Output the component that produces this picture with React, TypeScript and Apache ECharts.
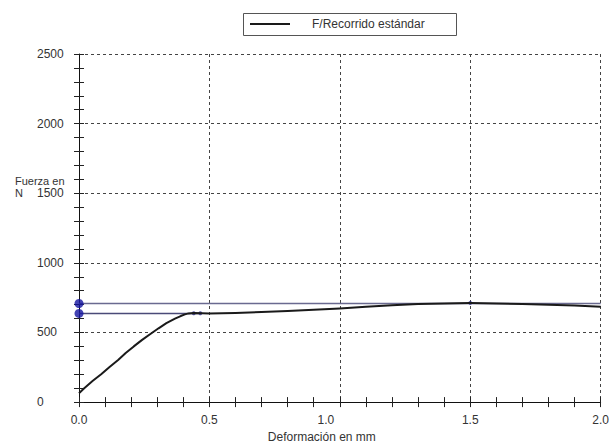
import React, { useEffect, useRef } from "react";
import * as echarts from "echarts";

const deformation = [0, 0.02, 0.053, 0.085, 0.116, 0.15, 0.179, 0.21, 0.242, 0.275, 0.305, 0.335, 0.368, 0.39, 0.406, 0.42, 0.44, 0.47, 0.5, 0.6, 0.7, 0.8, 0.9, 1.0, 1.1, 1.2, 1.3, 1.4, 1.5, 1.6, 1.7, 1.8, 1.9, 2.0];
const force = [64, 100, 153, 200, 250, 302, 352, 400, 447, 491, 530, 567, 600, 618, 630, 637, 640, 638, 636, 640, 647, 655, 663, 672, 684, 696, 704, 709, 711, 709, 705, 700, 693, 684];

const upperLevel = 708;
const lowerLevel = 637;
const lowerLevelEnd = 0.46;
const xMax = 2.0;
const yMax = 2500;
const smallMarks = [[0.44, 638], [0.465, 638], [1.5, 711]];

const seriesName = "F/Recorrido estándar";
const xTitle = "Deformación en mm";
const yTitle = "Fuerza en\nN";

export default function App() {
  const ref = useRef<HTMLDivElement>(null);
  useEffect(() => {
    if (!ref.current) return;
    const chart = echarts.init(ref.current, undefined, { renderer: "svg" });
    const font = "'Liberation Sans', Arial, sans-serif";
    const tickStyle = { color: "#222", width: 1 };
    chart.setOption({
      animation: false,
      backgroundColor: "#fff",
      textStyle: { fontFamily: font },
      grid: { left: 79, right: 5, top: 54, bottom: 40 },
      xAxis: [
        {
          type: "value",
          min: 0,
          max: xMax,
          interval: 0.5,
          name: xTitle,
          nameLocation: "middle",
          nameGap: 26,
          nameTextStyle: { fontSize: 12, color: "#333", fontFamily: font, padding: [0, 36, 0, 0] },
          axisLine: { show: true, onZero: false, lineStyle: { color: "#111", width: 1 } },
          axisTick: { show: true, inside: false, length: 5, lineStyle: tickStyle },
          minorTick: { show: true, splitNumber: 5, length: 5, lineStyle: tickStyle },
          axisLabel: {
            margin: 12,
            fontSize: 12,
            color: "#333",
            fontFamily: font,
            formatter: (v: number) => (Math.abs(v - 1) < 1e-9 ? "{s|1.0}" : v.toFixed(1)),
            rich: { s: { fontSize: 12, color: "#333", fontFamily: font, padding: [0, 28, 0, 0] } },
          },
          splitLine: { show: true, lineStyle: { color: "#444", type: [3, 3], width: 1 } },
        },
        {
          type: "value",
          min: 0,
          max: xMax,
          interval: 0.5,
          position: "bottom",
          axisLine: { show: false, onZero: false },
          axisTick: { show: true, inside: true, length: 5, lineStyle: tickStyle },
          minorTick: { show: true, splitNumber: 5, length: 5, lineStyle: tickStyle },
          axisLabel: { show: false },
          splitLine: { show: false },
        },
      ],
      yAxis: [
        {
          type: "value",
          min: 0,
          max: yMax,
          interval: 500,
          axisLine: { show: true, onZero: false, lineStyle: { color: "#111", width: 1 } },
          axisTick: { show: true, inside: false, length: 5, lineStyle: tickStyle },
          minorTick: { show: true, splitNumber: 5, length: 5, lineStyle: tickStyle },
          axisLabel: {
            align: "left",
            margin: 42,
            fontSize: 12,
            color: "#333",
            fontFamily: font,
            formatter: (v: number) => String(v),
          },
          splitLine: { show: true, lineStyle: { color: "#444", type: [3, 3], width: 1 } },
        },
        {
          type: "value",
          min: 0,
          max: yMax,
          interval: 500,
          position: "left",
          axisLine: { show: false, onZero: false },
          axisTick: { show: true, inside: true, length: 5, lineStyle: tickStyle },
          minorTick: { show: true, splitNumber: 5, length: 5, lineStyle: tickStyle },
          axisLabel: { show: false },
          splitLine: { show: false },
        },
      ],
      series: [
        {
          type: "line",
          name: "Nivel superior",
          data: [[0, upperLevel], [xMax, upperLevel]],
          symbol: "none",
          lineStyle: { color: "#6a6a90", width: 1.5 },
          silent: true,
        },
        {
          type: "line",
          name: "Nivel inferior",
          data: [[0, lowerLevel], [lowerLevelEnd, lowerLevel]],
          symbol: "none",
          lineStyle: { color: "#4a4a78", width: 1.5 },
          silent: true,
        },
        {
          type: "line",
          name: seriesName,
          data: deformation.map((d, i) => [d, force[i]]),
          symbol: "none",
          smooth: false,
          lineStyle: { color: "#1a1a1a", width: 2, join: "round" },
        },
        {
          type: "scatter",
          name: "Marcas",
          data: smallMarks,
          symbolSize: 4,
          itemStyle: { color: "#2a2a90" },
        },
        {
          type: "scatter",
          name: "Niveles",
          data: [[0, upperLevel], [0, lowerLevel]],
          symbolSize: 9,
          itemStyle: { color: "#1414a0" },
          clip: false,
          z: 5,
        },
      ],
      graphic: [
        {
          type: "rect",
          left: 243,
          top: 13,
          shape: { width: 213, height: 22 },
          style: { fill: "#fff", stroke: "#555", lineWidth: 1 },
        },
        {
          type: "line",
          shape: { x1: 250, y1: 24, x2: 290, y2: 24 },
          style: { stroke: "#1a1a1a", lineWidth: 2 },
        },
        {
          type: "text",
          x: 312,
          y: 24,
          style: { text: seriesName, fontSize: 12, fontFamily: font, fill: "#333", verticalAlign: "middle" },
        },
        {
          type: "text",
          x: 15,
          y: 175,
          style: { text: yTitle, fontSize: 11, lineHeight: 12, fontFamily: font, fill: "#333" },
        },
      ],
    });
    return () => chart.dispose();
  }, []);
  return <div ref={ref} style={{ position: "absolute", left: 0, top: 0, width: 612, height: 448 }} />;
}
